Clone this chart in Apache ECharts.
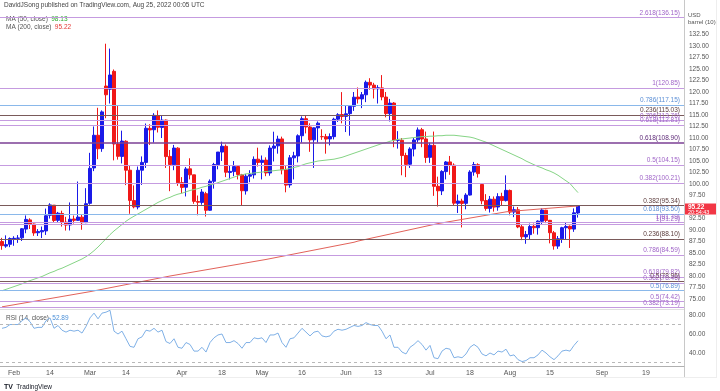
<!DOCTYPE html>
<html><head><meta charset="utf-8">
<script src="https://cdn.jsdelivr.net/npm/echarts@6/dist/echarts.min.js"></script>
<style>html,body{margin:0;padding:0;background:#fff}#c{width:720px;height:391px}</style>
</head><body><div id="c"></div>
<script>
// ---------- categories (trading days) ----------
const startDate = '2022-01-27';
const endDate = '2022-09-30';
const holidays = ['2022-02-21','2022-04-15','2022-05-30','2022-06-20','2022-07-04','2022-09-05'];
const tickLabels = {'2022-02-01':'Feb','2022-02-14':'14','2022-03-01':'Mar','2022-03-14':'14','2022-04-01':'Apr','2022-04-18':'18','2022-05-02':'May','2022-05-16':'16','2022-06-01':'Jun','2022-06-13':'13','2022-07-01':'Jul','2022-07-18':'18','2022-08-01':'Aug','2022-08-15':'15','2022-09-01':'Sep','2022-09-19':'19'};

// ---------- OHLC ----------
const opens = [87.50,86.50,86.90,88.05,88.20,88.30,90.20,92.20,91.30,89.40,
89.60,89.80,93.20,95.40,92.10,93.60,91.70,91.10,92.40,92.10,
92.80,91.60,95.80,103.50,110.60,107.70,121.30,120.60,124.50,108.70,
106.00,109.30,103.00,96.40,95.00,103.00,104.70,112.10,111.80,114.90,
112.30,113.90,106.00,104.20,107.80,100.30,99.30,103.30,102.00,96.20,
96.00,97.90,94.30,100.60,104.20,106.95,108.20,102.50,102.70,103.80,
102.00,98.50,101.70,102.00,105.40,104.70,105.20,102.40,107.80,108.30,
109.80,103.10,99.80,105.70,106.10,110.50,114.20,112.40,109.60,112.20,
110.30,110.30,109.80,110.30,114.10,115.10,114.70,115.30,116.90,118.90,
118.50,119.40,122.10,121.50,120.70,120.90,118.90,115.30,117.60,109.50,
109.50,106.20,104.30,107.60,109.60,111.80,109.80,105.80,108.40,99.50,
98.50,102.70,104.80,104.10,95.80,96.30,95.80,97.60,102.60,104.20,
99.90,96.40,94.70,96.70,95.00,97.30,96.40,98.60,93.90,94.40,
90.70,88.50,89.00,90.80,90.50,91.90,94.30,92.10,89.40,86.50,
88.10,90.50,90.80,90.20,93.70];
const highs = [88.30,88.84,88.39,88.65,88.90,90.42,93.17,92.55,91.40,90.20,
90.76,94.66,95.82,95.40,93.94,94.20,92.87,96.00,93.15,100.54,
93.40,99.10,106.78,112.51,116.57,116.00,130.50,129.44,124.90,117.00,
111.60,109.50,103.90,99.70,103.80,106.00,113.15,113.00,115.40,116.00,
115.00,114.00,107.40,108.50,108.00,101.50,103.70,105.60,102.00,97.50,
98.90,98.30,101.00,104.60,106.70,109.20,108.60,104.00,105.00,104.00,
102.20,102.20,103.00,106.00,107.90,106.20,105.80,108.40,111.37,110.50,
110.30,103.90,106.30,107.00,110.80,114.70,115.00,113.20,112.30,113.60,
111.90,110.90,111.00,114.40,115.40,119.98,117.00,117.00,120.00,120.99,
120.00,122.50,123.00,122.00,121.50,123.68,120.00,118.50,117.80,111.50,
110.00,106.80,108.00,110.00,112.30,112.20,111.40,109.00,111.40,101.60,
103.00,105.00,106.10,104.50,97.70,96.80,98.00,103.00,104.80,104.50,
100.10,97.80,97.40,97.30,98.00,98.10,101.88,98.80,95.10,95.00,
91.20,89.80,91.40,91.40,92.10,94.70,94.40,92.20,89.80,88.70,
90.70,91.60,91.00,94.70,95.30];
const lows = [85.71,86.14,86.27,86.57,87.20,87.62,89.30,90.23,88.73,88.70,
88.25,88.93,92.50,91.61,91.67,90.75,89.88,89.90,91.40,92.00,
90.06,91.50,95.50,102.80,105.40,107.00,114.30,117.50,105.14,105.30,
104.48,99.76,93.53,94.71,94.50,99.80,103.50,108.50,109.00,111.20,
110.00,103.50,98.44,103.00,99.60,98.00,97.30,101.00,95.70,93.20,
95.50,92.93,94.20,99.00,103.20,105.00,101.50,101.00,101.70,101.00,
95.28,97.70,100.40,101.20,103.80,101.00,101.70,101.80,104.90,106.60,
102.10,98.20,99.20,101.00,104.70,109.00,111.00,107.00,103.50,109.00,
109.60,106.60,108.40,109.70,113.50,113.20,111.30,110.50,115.90,117.50,
116.50,117.80,120.50,118.60,117.50,118.20,114.50,113.60,108.00,107.70,
101.90,101.50,103.50,106.00,109.00,108.00,104.60,104.60,97.43,95.10,
97.60,101.00,102.00,95.30,93.70,90.56,94.50,97.50,101.80,101.40,
95.60,94.20,93.80,94.00,94.20,95.30,96.20,93.20,92.80,90.40,
87.80,87.01,88.00,89.20,89.00,91.30,91.50,87.10,85.73,85.90,
87.20,88.00,86.10,89.60,92.70];
const closes = [86.61,86.82,88.15,88.20,88.26,90.27,92.31,91.32,89.36,89.66,
89.88,93.10,95.46,92.07,93.66,91.76,91.07,92.35,92.10,92.81,
91.59,95.72,103.41,110.60,107.67,115.68,119.40,123.70,108.70,106.02,
109.33,103.01,96.44,95.04,102.98,104.70,112.12,111.76,114.93,112.34,
113.90,105.96,104.24,107.82,100.28,99.27,103.28,102.00,96.23,96.03,
98.26,94.29,100.60,104.25,106.95,108.21,102.56,102.75,103.79,102.07,
98.54,101.70,102.02,105.36,104.69,105.17,102.41,107.81,108.26,109.77,
103.09,99.76,105.71,106.13,110.49,114.20,112.40,109.59,112.21,113.23,
110.29,109.77,110.33,114.09,115.07,114.67,115.26,116.87,118.87,118.50,
119.41,122.11,121.51,120.67,120.93,118.93,115.31,117.59,109.56,109.52,
106.19,104.27,107.62,109.57,111.76,109.78,105.76,108.43,99.50,98.53,
102.73,104.79,104.09,95.84,96.30,95.78,97.59,102.60,104.22,102.26,
96.35,94.70,96.70,94.98,97.26,96.42,98.62,93.89,94.42,90.66,
88.54,89.01,90.76,90.50,91.93,94.34,92.09,89.41,86.53,88.11,
90.50,90.77,90.23,93.74,95.22];

// ---------- indicators ----------
const ma50 = [76.8,77.1,77.4,77.7,78.0,78.3,78.7,79.0,79.3,79.6,
79.9,80.3,80.7,81.0,81.4,81.7,82.1,82.5,82.9,83.3,
83.7,84.2,84.8,85.5,86.3,87.2,88.1,89.0,89.8,90.5,
91.2,91.9,92.5,93.0,93.5,94.0,94.5,95.0,95.5,96.0,
96.4,96.8,97.1,97.5,97.8,98.0,98.3,98.6,98.8,99.0,
99.3,99.5,99.8,100.0,100.3,100.6,100.9,101.2,101.5,101.8,
102.0,102.2,102.3,102.4,102.5,102.6,102.7,102.8,102.9,103.0,
103.1,103.2,103.4,103.6,103.8,104.1,104.4,104.6,104.8,105.0,
105.1,105.2,105.3,105.4,105.6,105.8,106.1,106.4,106.7,107.0,
107.3,107.6,107.9,108.2,108.5,108.8,109.0,109.3,109.5,109.7,
109.8,109.9,110.0,110.1,110.2,110.3,110.3,110.4,110.4,110.5,
110.5,110.6,110.6,110.6,110.5,110.4,110.3,110.2,110.0,109.7,
109.4,109.1,108.7,108.3,107.9,107.5,107.1,106.7,106.3,105.9,
105.5,105.0,104.6,104.2,103.8,103.5,103.1,102.8,102.4,101.9,
101.3,100.7,100.1,99.1,98.13];
const ma200 = [73.30,73.45,73.60,73.75,73.90,74.05,74.20,74.35,74.50,74.65,
74.80,74.95,75.10,75.25,75.40,75.55,75.70,75.85,76.00,76.15,
76.30,76.45,76.60,76.77,76.94,77.11,77.28,77.45,77.62,77.79,
77.96,78.13,78.30,78.47,78.64,78.81,78.98,79.15,79.32,79.49,
79.66,79.83,80.00,80.15,80.30,80.45,80.60,80.75,80.90,81.05,
81.20,81.35,81.50,81.65,81.80,81.95,82.10,82.25,82.40,82.55,
82.70,82.85,83.00,83.15,83.30,83.45,83.60,83.77,83.94,84.11,
84.28,84.45,84.62,84.79,84.96,85.13,85.30,85.47,85.64,85.81,
85.98,86.15,86.32,86.49,86.66,86.83,87.00,87.17,87.34,87.60,
87.79,87.98,88.17,88.36,88.55,88.74,88.93,89.12,89.31,89.50,
89.69,89.88,90.07,90.26,90.45,90.64,90.83,91.02,91.21,91.40,
91.55,91.70,91.85,92.00,92.15,92.30,92.45,92.60,92.75,92.90,
93.05,93.20,93.35,93.50,93.65,93.80,93.95,94.05,94.12,94.19,
94.26,94.33,94.40,94.47,94.54,94.61,94.68,94.75,94.82,94.89,
94.96,95.03,95.10,95.16,95.22];
const rsi = [66,67,70,70,70,74,77,73,66,67,
67,74,77,66,69,64,62,64,63,64,
61,68,77,82,76,82,83,85,63,60,
63,55,47,46,55,57,64,63,66,62,
64,52,50,55,46,45,51,49,42,42,
46,41,51,56,59,60,51,51,53,50,
45,51,51,56,55,56,51,59,59,61,
51,46,55,56,61,66,62,58,62,63,
58,57,58,63,65,64,65,67,69,68,
69,72,70,69,69,63,55,59,46,46,
41,39,46,49,53,49,43,48,35,34,
42,45,44,35,36,35,39,46,49,46,
39,37,40,38,42,41,44,37,38,33,
31,32,35,35,38,43,40,36,33,37,
42,43,42,48,52.89];

// ---------- Fibonacci levels ----------
const fibPrices = [136.15,120.85,117.15,115.03,113.76,112.81,108.90,104.15,100.21,95.34,93.50,91.79,91.29,88.10,84.59,79.82,78.96,78.46,76.89,74.42,73.19];
const fibLabels = ['2.618(136.15)','1(120.85)','0.786(117.15)','0.236(115.03)','0.786(113.76)','0.618(112.81)','0.618(108.90)','0.5(104.15)','0.382(100.21)','0.382(95.34)','0.618(93.50)','1(91.79)','1(91.29)','0.236(88.10)','0.786(84.59)','0.618(79.82)','0.5(78.96)','0.382(78.46)','0.5(76.89)','0.5(74.42)','0.382(73.19)'];
const fibKinds = ['p','p','b','d','p','p','dp','p','p','d','b','p','p','d','p','p','d','p','b','p','p'];

const priceTicks = [75,77.5,80,82.5,85,87.5,90,92.5,95,97.5,100,102.5,105,107.5,110,112.5,115,117.5,120,122.5,125,127.5,130,132.5];
const rsiTicks = [40,60,80];
const lastPrice = 95.22;

// ---------- build ----------
function buildDates(){
  const out=[]; const d=new Date(startDate+'T00:00:00Z'); const e=new Date(endDate+'T00:00:00Z');
  while(d<=e){const w=d.getUTCDay(); const s=d.toISOString().slice(0,10);
    if(w!==0&&w!==6&&holidays.indexOf(s)<0) out.push(s); d.setUTCDate(d.getUTCDate()+1);}
  return out;
}
const dates = buildDates();
const candle = opens.map((o,i)=>[o,closes[i],lows[i],highs[i]]);
const kindStyle = {
  p:{line:'#c59be0',text:'#a065c8',w:1},
  b:{line:'#8ab8ea',text:'#5b8fd6',w:1},
  d:{line:'#7a5a5a',text:'#5a3a3a',w:1},
  dp:{line:'#7b3f95',text:'#5e2a78',w:1.5}
};
const FONT = 'Liberation Sans, Arial, sans-serif';
const fibData = fibPrices.map((p,i)=>{const k=kindStyle[fibKinds[i]];return {
  yAxis:p, lineStyle:{color:k.line,width:k.w,type:'solid'},
  label:{show:true,position:'insideEndTop',formatter:fibLabels[i],color:k.text,fontSize:6.5,fontFamily:FONT,distance:[4,1]}
};});

const chart = echarts.init(document.getElementById('c'),null,{renderer:'canvas'});
chart.setOption({
  animation:false,
  backgroundColor:'#ffffff',
  grid:[{left:0,width:684,top:10,height:299},{left:0,width:684,top:310,height:56}],
  xAxis:[
    {type:'category',gridIndex:0,data:dates,boundaryGap:true,axisLine:{show:false},axisTick:{show:false},axisLabel:{show:false},splitLine:{show:false}},
    {type:'category',gridIndex:1,data:dates,boundaryGap:true,axisLine:{show:true,lineStyle:{color:'#b0b0b0',width:1}},axisTick:{show:false},
     axisLabel:{show:true,interval:(i,v)=>tickLabels[v]!==undefined,formatter:v=>tickLabels[v]||'',color:'#555',fontSize:7,fontFamily:FONT,margin:4},splitLine:{show:false}}
  ],
  yAxis:[
    {type:'value',gridIndex:0,position:'right',min:72.83,max:137.83,axisLine:{show:false},axisTick:{show:false},splitLine:{show:false},
     axisLabel:{customValues:priceTicks,formatter:v=>v.toFixed(2),color:'#555',fontSize:6.5,fontFamily:FONT,margin:5}},
    {type:'value',gridIndex:1,position:'right',min:26.3,max:85.3,axisLine:{show:false},axisTick:{show:false},splitLine:{show:false},
     axisLabel:{customValues:rsiTicks,formatter:v=>v.toFixed(2),color:'#555',fontSize:6.5,fontFamily:FONT,margin:5}}
  ],
  series:[
    {type:'candlestick',xAxisIndex:0,yAxisIndex:0,data:candle,barWidth:2.8,
     itemStyle:{color:'#1a1ae8',color0:'#f01818',borderColor:'#1a1ae8',borderColor0:'#f01818',borderWidth:1},
     markLine:{silent:true,symbol:['none','none'],animation:false,data:fibData}},
    {type:'line',xAxisIndex:0,yAxisIndex:0,data:ma50,showSymbol:false,lineStyle:{color:'#86d486',width:1},z:3},
    {type:'line',xAxisIndex:0,yAxisIndex:0,data:ma200,showSymbol:false,lineStyle:{color:'#e2625a',width:1},z:3},
    {type:'line',xAxisIndex:1,yAxisIndex:1,data:rsi,showSymbol:false,lineStyle:{color:'#7fb0e6',width:1},
     markLine:{silent:true,symbol:['none','none'],label:{show:false},lineStyle:{color:'#b8b8b8',type:[3,3],width:1},data:[{yAxis:70},{yAxis:30}]}}
  ]
});

// price tag placed through the value axis scale
const py = chart.convertToPixel({yAxisIndex:0}, lastPrice);
chart.setOption({graphic:[
    {type:'line',shape:{x1:684.5,y1:0,x2:684.5,y2:378},style:{stroke:'#c8c8c8',lineWidth:1},silent:true},
    {type:'line',shape:{x1:0,y1:309.5,x2:684,y2:309.5},style:{stroke:'#e0e0e0',lineWidth:1},silent:true},
    {type:'line',shape:{x1:716.5,y1:0,x2:716.5,y2:378},style:{stroke:'#eeeeee',lineWidth:1},silent:true},
    {type:'line',shape:{x1:0,y1:377.5,x2:717,y2:377.5},style:{stroke:'#eeeeee',lineWidth:1},silent:true},
    {type:'text',left:4,top:2,style:{text:'DavidJSong published on TradingView.com, Aug 25, 2022 00:05 UTC',fill:'#444',font:'6.5px '+FONT}},
    {type:'text',left:6,top:13,style:{text:'{a|MA (50, close)} {g|98.13}',rich:{a:{fill:'#555',fontSize:6.5,fontFamily:FONT},g:{fill:'#2eaa2e',fontSize:6.5,fontFamily:FONT}}}},
    {type:'text',left:6,top:21,style:{text:'{a|MA (200, close)} {r|95.22}',rich:{a:{fill:'#555',fontSize:6.5,fontFamily:FONT},r:{fill:'#e53935',fontSize:6.5,fontFamily:FONT}}}},
    {type:'text',left:6,top:312,style:{text:'{a|RSI (14, close)} {b|52.89}',rich:{a:{fill:'#555',fontSize:6.5,fontFamily:FONT},b:{fill:'#4a8fd8',fontSize:6.5,fontFamily:FONT}}}},
    {type:'text',left:688,top:12,style:{text:'USD',fill:'#555',font:'6px '+FONT}},
    {type:'text',left:688,top:19,style:{text:'barrel (10)',fill:'#555',font:'6px '+FONT}},
    {type:'text',left:4,top:381,style:{text:'{l|TV} {t|TradingView}',rich:{l:{fill:'#131722',fontSize:7,fontWeight:'bold',fontFamily:FONT},t:{fill:'#131722',fontSize:6.5,fontFamily:FONT}}}},
    {type:'rect',shape:{x:685,y:py-2.5,width:31,height:11},style:{fill:'#f23645'},z:10},
    {type:'text',x:688,y:py-2,style:{text:lastPrice.toFixed(2),fill:'#fff',font:'bold 6.5px '+FONT},z:11},
    {type:'text',x:688,y:py+3.6,style:{text:'20:54:43',fill:'#fff',font:'5.5px '+FONT},z:11}
]});
</script></body></html>
